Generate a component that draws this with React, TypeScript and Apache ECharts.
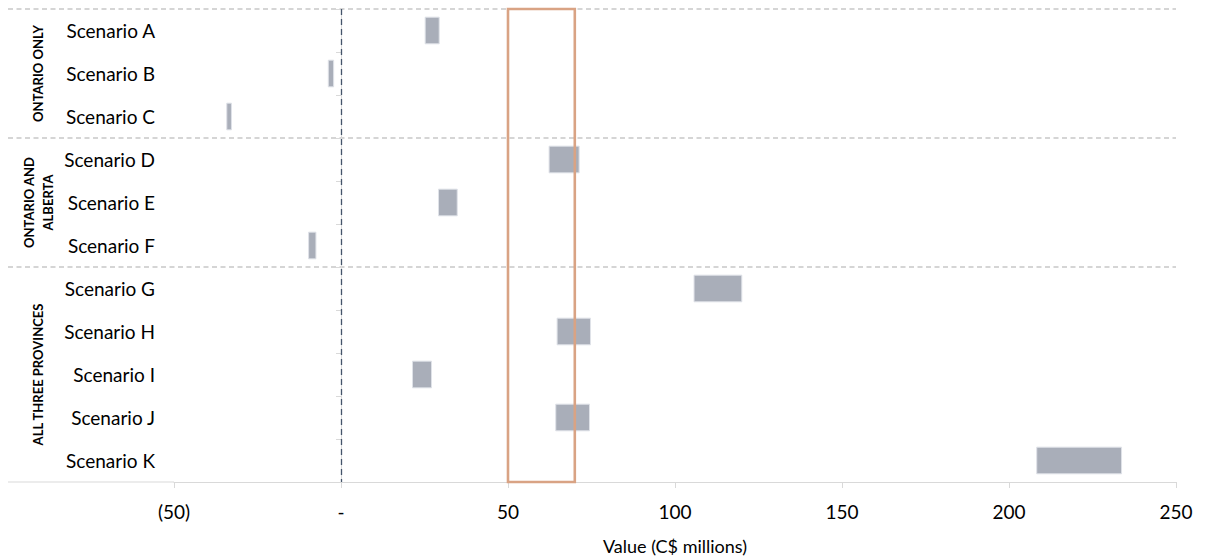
import React, { useEffect, useRef } from "react";
import * as echarts from "echarts";

const categories = [
  "Scenario A", "Scenario B", "Scenario C",
  "Scenario D", "Scenario E", "Scenario F",
  "Scenario G", "Scenario H", "Scenario I", "Scenario J", "Scenario K",
];
const lows = [25.2, -3.8, -34.2, 62.3, 29.2, -9.7, 105.7, 64.7, 21.4, 64.3, 208.3];
const highs = [29.4, -2.2, -32.8, 71.3, 34.8, -7.5, 120.0, 74.7, 27.1, 74.4, 233.7];
const groupLabels = ["ONTARIO ONLY", "ONTARIO AND\nALBERTA", "ALL THREE PROVINCES"];
const groupStarts = [0, 3, 6];
const groupEnds = [2, 5, 10];
const xMin = -50;
const xMax = 250;
const xInterval = 50;
const highlightFrom = 50;
const highlightTo = 70;
const xTitle = "Value (C$ millions)";

const FONT = "Lato, 'Open Sans', sans-serif";

export default function App() {
  const ref = useRef<HTMLDivElement>(null);
  useEffect(() => {
    document.body.style.margin = "0";
    const chart = echarts.init(ref.current!, null, { renderer: "svg" });
    const data = categories.map((_, i) => [i, lows[i], highs[i]]);
    chart.setOption({
      animation: false,
      grid: { left: 174, right: 29, top: 9, bottom: 76, containLabel: false, outerBoundsMode: "none" },
      xAxis: {
        type: "value",
        min: xMin,
        max: xMax,
        interval: xInterval,
        name: xTitle,
        nameLocation: "middle",
        nameGap: 54,
        nameTextStyle: { fontSize: 18, fontFamily: FONT, color: "#000", lineHeight: 20 },
        splitLine: { show: false },
        axisLine: { show: true, lineStyle: { color: "#d9d9d9", width: 1 } },
        axisTick: { show: true, length: 6, lineStyle: { color: "#d9d9d9" } },
        axisLabel: {
          fontSize: 19,
          fontFamily: FONT,
          color: "#000",
          margin: 20,
          formatter: (v: number) => (v < 0 ? `(${Math.abs(v)})` : v === 0 ? "-" : `${v}`),
        },
      },
      yAxis: {
        type: "category",
        data: categories,
        inverse: true,
        axisLine: { show: true, lineStyle: { color: "#d9d9d9", width: 1 } },
        axisTick: { show: true, length: 5, lineStyle: { color: "#d9d9d9" } },
        axisLabel: { fontSize: 19, fontFamily: FONT, color: "#000", margin: 19 },
        splitLine: { show: false },
      },
      series: [
        {
          type: "custom",
          data,
          encode: { x: [1, 2], y: 0 },
          renderItem: (params: any, api: any) => {
            const idx = api.value(0);
            const p1 = api.coord([api.value(1), idx]);
            const p2 = api.coord([api.value(2), idx]);
            const h = api.size([0, 1])[1] * 0.62;
            return {
              type: "rect",
              shape: { x: p1[0], y: p1[1] - h / 2, width: p2[0] - p1[0], height: h },
              style: { fill: "#a9aeb9", stroke: "#dfe2e8", lineWidth: 1 },
            };
          },
          markLine: {
            silent: true,
            symbol: ["none", "none"],
            label: { show: false },
            lineStyle: { type: [6, 4], color: "#44546a", width: 1.3 },
            data: [{ xAxis: 0 }],
          },
        },
      ],
    });

    const xp = (v: number) => chart.convertToPixel({ xAxisIndex: 0 }, v) as number;
    const yp = (i: number) => chart.convertToPixel({ yAxisIndex: 0 }, i) as number;
    const band = yp(1) - yp(0);
    const top = yp(0) - band / 2;
    const bottom = yp(categories.length - 1) + band / 2;
    const leftEdge = 8;
    const rightEdge = xp(xMax);
    const dash = { stroke: "#c8c8c8", lineWidth: 1.3, lineDash: [5, 3.5] };
    const graphics: any[] = [];
    graphics.push({
      type: "line",
      shape: { x1: leftEdge, y1: top, x2: rightEdge, y2: top },
      style: dash,
      silent: true,
    });
    groupEnds.slice(0, -1).forEach((e) => {
      const y = yp(e) + band / 2;
      graphics.push({
        type: "line",
        shape: { x1: leftEdge, y1: y, x2: rightEdge, y2: y },
        style: dash,
        silent: true,
      });
    });
    graphics.push({
      type: "line",
      shape: { x1: leftEdge, y1: bottom, x2: xp(xMin), y2: bottom },
      style: { stroke: "#d9d9d9", lineWidth: 1 },
      silent: true,
    });
    groupLabels.forEach((lab, g) => {
      const cy = (yp(groupStarts[g]) + yp(groupEnds[g])) / 2;
      graphics.push({
        type: "text",
        x: 38,
        y: cy,
        rotation: Math.PI / 2,
        silent: true,
        style: {
          text: lab,
          fontSize: 13,
          fontWeight: "bold",
          fontFamily: FONT,
          fill: "#000",
          align: "center",
          verticalAlign: "middle",
          lineHeight: 19,
        },
      });
    });
    const hx1 = xp(highlightFrom);
    const hx2 = xp(highlightTo);
    graphics.push({
      type: "rect",
      z: 100,
      silent: true,
      shape: { x: hx1, y: top, width: hx2 - hx1, height: bottom - top },
      style: { fill: "none", stroke: "#d9a384", lineWidth: 2.6 },
    });
    chart.setOption({ graphic: graphics });

    return () => chart.dispose();
  }, []);
  return <div ref={ref} style={{ width: 1205, height: 558 }} />;
}
